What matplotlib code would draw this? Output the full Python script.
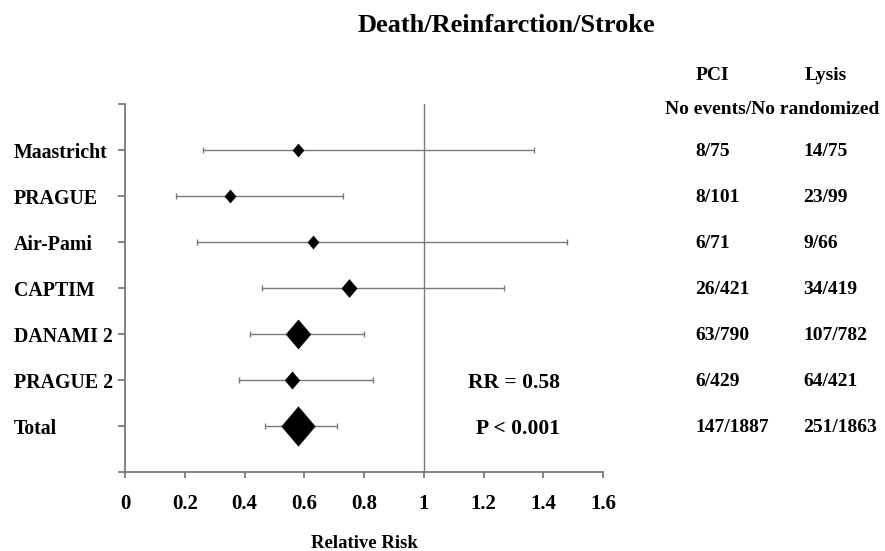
import matplotlib
matplotlib.use("Agg")
import matplotlib.pyplot as plt
from matplotlib.transforms import blended_transform_factory
from matplotlib.path import Path

plt.rcParams['font.family'] = ['Liberation Serif', 'DejaVu Serif']
plt.rcParams['font.weight'] = 'bold'

# Trial data
trials = ["Maastricht", "PRAGUE", "Air-Pami", "CAPTIM", "DANAMI 2", "PRAGUE 2", "Total"]
rr = [0.58, 0.35, 0.63, 0.75, 0.58, 0.56, 0.58]
ci_low = [0.26, 0.17, 0.24, 0.46, 0.42, 0.38, 0.47]
ci_high = [1.37, 0.73, 1.48, 1.27, 0.80, 0.83, 0.71]
pci_events = ["8/75", "8/101", "6/71", "26/421", "63/790", "6/429", "147/1887"]
lysis_events = ["14/75", "23/99", "9/66", "34/419", "107/782", "64/421", "251/1863"]
x_ticks = [0, 0.2, 0.4, 0.6, 0.8, 1, 1.2, 1.4, 1.6]
x_tick_labels = ["0", "0.2", "0.4", "0.6", "0.8", "1", "1.2", "1.4", "1.6"]

# marker size (points) per study, reflecting study weight
marker_sizes = [10, 10, 10, 13.5, 21.5, 13, 29]

fig = plt.figure(figsize=(8.85, 5.51), dpi=100)
ax = fig.add_axes([125 / 885, 1 - 472 / 551, 478 / 885, 368 / 551])

grey = "#7a7a7a"
n = len(trials)
ypos = [n - i for i in range(n)]

diamond = Path([(0, 1), (0.85, 0), (0, -1), (-0.85, 0), (0, 1)],
               [Path.MOVETO, Path.LINETO, Path.LINETO, Path.LINETO, Path.CLOSEPOLY])

ax.axvline(1, color=grey, lw=1.0, zorder=1)

for y, m, lo, hi, ms in zip(ypos, rr, ci_low, ci_high, marker_sizes):
    ax.errorbar([m], [y], xerr=[[m - lo], [hi - m]], fmt='none', ecolor=grey,
                elinewidth=1.0, capsize=2.5, capthick=1.0, zorder=2)
    ax.plot([m], [y], marker=diamond, markersize=ms, color="black",
            markeredgewidth=0, linestyle='none', zorder=3)

ax.set_xlim(0, 1.6)
ax.set_ylim(0, 8)
ax.set_xticks(x_ticks)
ax.set_xticklabels(x_tick_labels, fontsize=15, fontweight='bold')
ax.set_yticks(list(range(0, 9)))
ax.set_yticklabels([""] + [trials[n - k] for k in range(1, n + 1)] + [""],
                   fontsize=14.3, fontweight='bold')
for lbl in ax.get_yticklabels():
    lbl.set_horizontalalignment('left')
    lbl.set_verticalalignment('center_baseline')
ax.tick_params(axis='y', pad=75, length=5, color=grey, width=1.3)
ax.tick_params(axis='x', length=4, color=grey, width=1.3, pad=12)
for side in ("top", "right"):
    ax.spines[side].set_visible(False)
for side in ("left", "bottom"):
    ax.spines[side].set_color(grey)
    ax.spines[side].set_linewidth(1.3)

ax.set_xlabel("Relative Risk", fontsize=13.5, fontweight='bold', labelpad=15)

# summary statistics
ax.text(1.147, 2, "RR = 0.58", fontsize=15.5, fontweight='bold',
        ha='left', va='center_baseline')
ax.text(1.174, 1, "P < 0.001", fontsize=15.5, fontweight='bold',
        ha='left', va='center_baseline')

# title
fig.text(506 / 885, 1 - 23 / 551, "Death/Reinfarction/Stroke", fontsize=19,
         fontweight='bold', ha='center', va='center_baseline')

# event tables
fig.text(712 / 885, 1 - 73 / 551, "PCI", fontsize=14, fontweight='bold',
         ha='center', va='center_baseline')
fig.text(826 / 885, 1 - 73 / 551, "Lysis", fontsize=14, fontweight='bold',
         ha='center', va='center_baseline')
fig.text(772 / 885, 1 - 107 / 551, "No events/No randomized", fontsize=14,
         fontweight='bold', ha='center', va='center_baseline')

tr = blended_transform_factory(fig.transFigure, ax.transData)
for y, p, l in zip(ypos, pci_events, lysis_events):
    ax.text(695 / 885, y, p, transform=tr, fontsize=14, fontweight='bold',
            ha='left', va='center_baseline', clip_on=False)
    ax.text(803 / 885, y, l, transform=tr, fontsize=14, fontweight='bold',
            ha='left', va='center_baseline', clip_on=False)

fig.savefig("out.png", dpi=100)
